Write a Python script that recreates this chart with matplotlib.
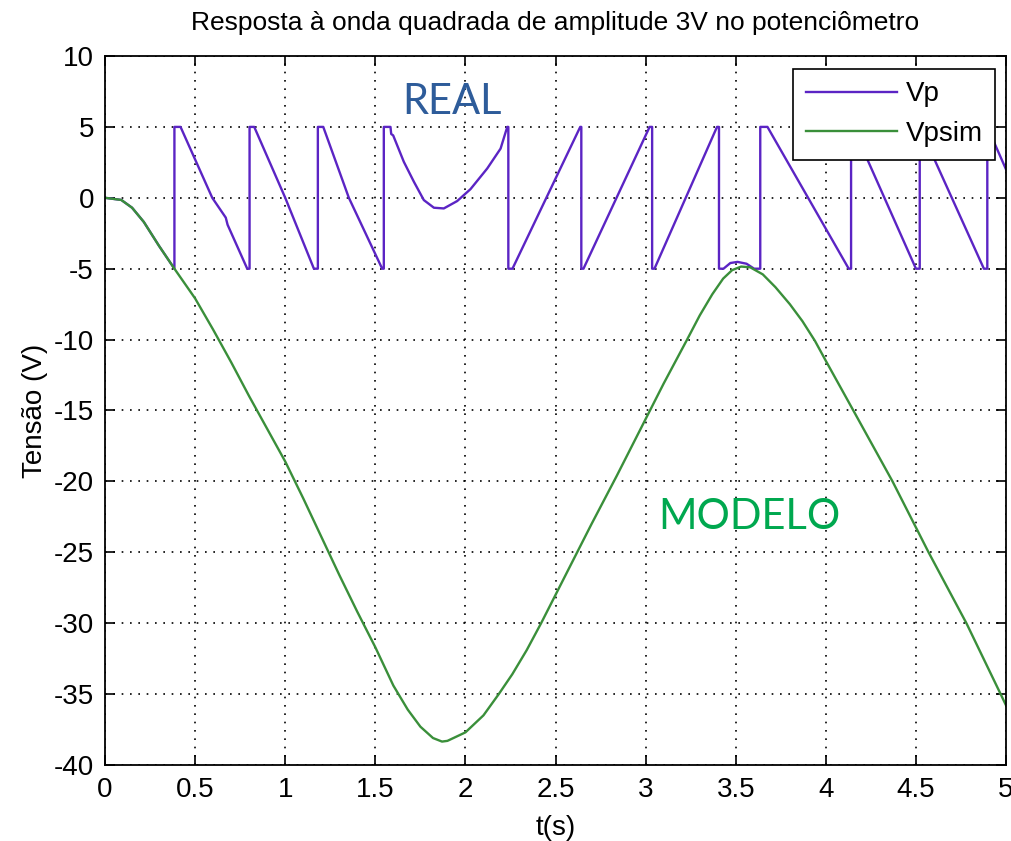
import matplotlib
matplotlib.use("Agg")
import matplotlib.pyplot as plt

plt.rcParams['font.family'] = ['Liberation Sans', 'DejaVu Sans']
plt.rcParams['axes.unicode_minus'] = False

# Vpsim (modelo)
t_sim = [0, 0.09, 0.15, 0.215, 0.30, 0.385, 0.5, 0.6, 0.7, 0.8, 0.9, 1.0, 1.1, 1.2,
         1.3, 1.4, 1.5, 1.6, 1.68, 1.75, 1.82, 1.87, 1.90, 2.0, 2.10, 2.185, 2.26, 2.34,
         2.42, 2.5, 2.6, 2.7, 2.84, 3.0, 3.1, 3.23, 3.30, 3.37, 3.43, 3.48, 3.53, 3.58,
         3.65, 3.72, 3.80, 3.87, 3.94, 4.0, 4.17, 4.37, 4.57, 4.78, 4.97, 5.0]
v_sim = [0, -0.15, -0.7, -1.7, -3.4, -5.0, -7.1, -9.3, -11.6, -14.0, -16.3, -18.6, -21.2,
         -23.9, -26.6, -29.2, -31.7, -34.4, -36.1, -37.3, -38.1, -38.35, -38.3, -37.7,
         -36.5, -35, -33.6, -31.9, -30, -28.0, -25.5, -23.0, -19.6, -15.6, -13.1, -10,
         -8.3, -6.8, -5.7, -5.1, -4.85, -4.9, -5.4, -6.3, -7.5, -8.7, -10.1, -11.5,
         -15.4, -20, -25, -30, -35, -35.8]

# Vp (real)
t_p = [0, 0.09, 0.15, 0.215, 0.30, 0.385, 0.385, 0.419, 0.595, 0.67, 0.68, 0.789, 0.802,
       0.802, 0.828, 1.0, 1.159, 1.181, 1.181, 1.211, 1.353, 1.538, 1.547, 1.547, 1.584,
       1.588, 1.599, 1.658, 1.714, 1.769, 1.825, 1.88, 1.954, 2.028, 2.121, 2.195, 2.232,
       2.238, 2.238, 2.261, 2.637, 2.643, 2.643, 2.655, 3.022, 3.036, 3.036, 3.049, 3.396,
       3.407, 3.407, 3.432, 3.47, 3.51, 3.56, 3.602, 3.636, 3.636, 3.676, 4.127, 4.14,
       4.14, 4.15, 4.5, 4.521, 4.521, 4.877, 4.896, 4.896, 5.0]
v_p = [0, -0.15, -0.7, -1.7, -3.4, -5.0, 5, 5, 0, -1.4, -1.9, -5, -5,
       5, 5, 0, -5, -5, 5, 5, 0, -5, -5, 5, 5,
       4.5, 4.4, 2.54, 1.13, -0.16, -0.70, -0.75, -0.23, 0.61, 2.07, 3.47, 5,
       5, -5, -5, 5, 5, -5, -5, 5, 5, -5, -5, 5,
       5, -5, -5, -4.6, -4.52, -4.65, -5, -5, 5, 5, -5, -5,
       5, 5, -5, -5, 5, -5, -5, 5, 2.0]

xticks = [0, 0.5, 1, 1.5, 2, 2.5, 3, 3.5, 4, 4.5, 5]
xticklabels = ['0', '0.5', '1', '1.5', '2', '2.5', '3', '3.5', '4', '4.5', '5']
yticks = [-40, -35, -30, -25, -20, -15, -10, -5, 0, 5, 10]

fig = plt.figure(figsize=(10.11, 8.41), dpi=100)
ax = fig.add_axes([0.1039, 0.0904, 0.8912, 0.8430])

ax.plot(t_p, v_p, color='#5b24c4', linewidth=1.7, label='Vp')
ax.plot(t_sim, v_sim, color='#3a8f3a', linewidth=1.7, label='Vpsim')

ax.set_xlim(0, 5)
ax.set_ylim(-40, 10)
ax.set_xticks(xticks)
ax.set_xticklabels(xticklabels)
ax.set_yticks(yticks)
ax.tick_params(direction='in', length=7, width=1.2, top=True, right=True,
               labelsize=20)
ax.tick_params(axis='x', pad=9)
ax.tick_params(axis='y', pad=8)
for s in ax.spines.values():
    s.set_linewidth(1.3)
ax.grid(True, color='black', linestyle=(0, (1, 4)), linewidth=1.2)

ax.set_title('Resposta à onda quadrada de amplitude 3V no potenciômetro',
             fontsize=19, pad=19)
ax.set_xlabel('t(s)', fontsize=20, labelpad=8)
ax.set_ylabel('Tensão (V)', fontsize=20, labelpad=4)

leg = ax.legend(loc='upper right', bbox_to_anchor=(0.988, 0.982), fontsize=20,
                fancybox=False, framealpha=1, edgecolor='black', borderaxespad=0,
                handlelength=3.3, borderpad=0.45, labelspacing=0.5, handletextpad=0.3)
leg.get_frame().set_linewidth(1.2)

ax.text(1.926, 6.75, 'REAL', color='#2e5c9a', fontsize=30, family='Lato',
        ha='center', va='center')
ax.text(3.575, -22.5, 'MODELO', color='#00a84f', fontsize=30, family='Lato',
        ha='center', va='center')

fig.savefig('out.png', dpi=100)
